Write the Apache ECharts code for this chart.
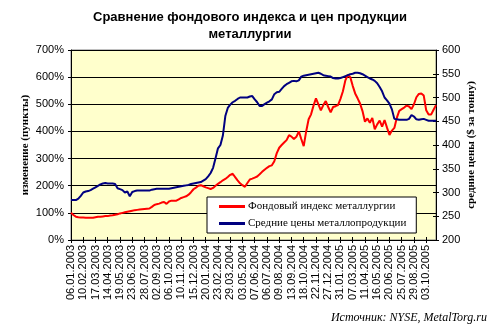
<!DOCTYPE html>
<html>
<head>
<meta charset="utf-8">
<script src="https://cdn.jsdelivr.net/npm/echarts@6/dist/echarts.min.js"></script>
<style>
html,body{margin:0;padding:0;background:#fff;}
#chart{width:500px;height:328px;}
</style>
</head>
<body>
<div id="chart"></div>
<script>
const tickLabels = ['06.01.2003','10.02.2003','17.03.2003','14.04.2003','19.05.2003','23.06.2003','28.07.2003','02.09.2003','06.10.2003','10.11.2003','15.12.2003','20.01.2004','23.02.2004','29.03.2004','03.05.2004','07.06.2004','06.07.2004','09.08.2004','13.09.2004','18.10.2004','22.11.2004','27.12.2004','31.01.2005','07.03.2005','11.04.2005','16.05.2005','20.06.2005','25.07.2005','29.08.2005','03.10.2005'];

// Фондовый индекс металлургии, % (left axis)
const stockIndex = [
100,92,86,84,83,83,82,82,82,82,
84,86,86,87,88,88,90,91,93,95,
98,100,102,104,106,108,110,111,112,113,
114,115,116,122,129,132,134,138,140,133,
142,145,145,145,150,155,158,161,167,176,
187,193,200,202,198,194,191,188,192,200,
207,213,220,225,232,240,244,232,220,209,
202,196,210,223,226,230,234,242,251,259,
266,272,275,290,320,340,350,359,368,386,
381,372,380,400,372,346,400,445,463,495,
522,500,478,497,512,490,470,490,493,497,
520,548,588,608,600,568,540,522,503,475,
436,448,432,450,408,426,440,418,442,414,
387,403,413,450,476,482,488,495,492,482,
500,526,538,540,532,478,462,462,480,497
];

// Средние цены металлопродукции, $ за тонну (right axis)
const avgPrice = [
284,284,284,287,293,300,302,303,305,308,
311,314,317,319,320,319,319,319,318,309,
307,305,300,302,292,301,303,304,304,304,
304,304,304,306,307,308,308,308,308,308,
308,309,310,311,312,313,314,315,316,318,
319,320,321,322,325,328,334,341,352,372,
393,400,420,461,478,485,490,493,497,500,
500,500,500,502,503,496,490,482,482,486,
489,492,496,507,511,512,518,524,528,531,
534,535,534,536,544,546,547,548,549,550,
551,552,550,547,546,545,544,541,540,540,
541,543,545,547,549,550,552,552,551,549,
546,543,540,538,535,530,522,513,500,494,
487,475,455,454,453,453,453,453,455,463,
460,454,453,454,455,453,451,451,451,451
];

const categories = stockIndex.map((_, i) => i % 5 === 0 ? tickLabels[i / 5] : tickLabels[Math.floor(i / 5)] + ' +' + (i % 5));

const chart = echarts.init(document.getElementById('chart'), null, {renderer: 'canvas'});
const sans = 'Liberation Sans, Arial, sans-serif';
const serif = 'Liberation Serif, Times New Roman, serif';

chart.setOption({
  animation: false,
  backgroundColor: '#ffffff',
  textStyle: {fontFamily: sans},
  title: [
    {
      text: 'Сравнение фондового индекса и цен продукции\nметаллургии',
      left: 'center',
      top: 4,
      textStyle: {fontFamily: sans, fontSize: 13, fontWeight: 'bold', color: '#000', lineHeight: 17}
    },
    {
      text: 'Источник: NYSE, MetalTorg.ru',
      right: 8,
      top: 307,
      textStyle: {fontFamily: serif, fontSize: 12, fontStyle: 'italic', fontWeight: 'normal', color: '#000'}
    }
  ],
  grid: {
    left: 71, right: 64, top: 50, bottom: 88,
    show: true, backgroundColor: '#FFFFCC', borderColor: '#808080', borderWidth: 1
  },
  legend: {
    orient: 'vertical',
    left: 207, top: 197,
    backgroundColor: '#ffffff',
    borderColor: '#000000', borderWidth: 1, borderRadius: 0,
    padding: [4, 10, 4, 12],
    itemGap: 6,
    itemWidth: 26, itemHeight: 3,
    textStyle: {fontFamily: serif, fontSize: 11, color: '#000', padding: [0, 0, 0, -2]},
    data: [
      {name: 'Фондовый индекс металлургии', icon: 'rect'},
      {name: 'Средние цены металлопродукции', icon: 'rect'}
    ]
  },
  xAxis: [
    {
      type: 'category', data: categories, boundaryGap: false,
      axisLine: {lineStyle: {color: '#000', width: 1}},
      axisTick: {interval: 4, length: 3, lineStyle: {color: '#000'}},
      axisLabel: {interval: 4, rotate: 90, fontSize: 11, color: '#000', margin: 5, fontFamily: sans, padding: [0, 0, 12, 0]},
      splitLine: {show: false}
    },
    {
      type: 'category', data: categories, boundaryGap: false, position: 'bottom',
      axisLine: {show: false},
      axisTick: {interval: 4, length: 3, inside: true, lineStyle: {color: '#000'}},
      axisLabel: {show: false},
      splitLine: {show: false}
    }
  ],
  yAxis: [
    {
      type: 'value', position: 'left', min: 0, max: 700, interval: 100,
      name: 'изменение (пункты)', nameLocation: 'middle', nameGap: 40, nameRotate: 90,
      nameMoveOverlap: false,
      nameTextStyle: {fontFamily: serif, fontSize: 11, fontWeight: 'bold', color: '#000'},
      axisLine: {show: true, lineStyle: {color: '#000'}},
      axisTick: {show: true, length: 3, lineStyle: {color: '#000'}},
      axisLabel: {formatter: '{value}%', fontSize: 11, color: '#000', margin: 7},
      splitLine: {show: true, lineStyle: {color: '#000', width: 1}}
    },
    {
      type: 'value', position: 'right', min: 200, max: 600, interval: 50,
      name: 'средние цены ($ за тонну)', nameLocation: 'middle', nameGap: 30, nameRotate: 90,
      nameMoveOverlap: false,
      nameTextStyle: {fontFamily: serif, fontSize: 11, fontWeight: 'bold', color: '#000'},
      axisLine: {show: true, lineStyle: {color: '#000'}},
      axisTick: {show: true, length: 3, lineStyle: {color: '#000'}},
      axisLabel: {fontSize: 11, color: '#000', margin: 6},
      splitLine: {show: false}
    },
    {
      type: 'value', position: 'right', min: 200, max: 600, interval: 50,
      axisLine: {show: false},
      axisTick: {show: true, inside: true, length: 3, lineStyle: {color: '#000'}},
      axisLabel: {show: false},
      splitLine: {show: false}
    }
  ],
  series: [
    {
      name: 'Фондовый индекс металлургии', type: 'line', data: stockIndex,
      xAxisIndex: 0, yAxisIndex: 0, showSymbol: false, symbol: 'none',
      lineStyle: {color: '#FF0000', width: 2}, itemStyle: {color: '#FF0000'}
    },
    {
      name: 'Средние цены металлопродукции', type: 'line', data: avgPrice,
      xAxisIndex: 0, yAxisIndex: 1, showSymbol: false, symbol: 'none',
      lineStyle: {color: '#000080', width: 2}, itemStyle: {color: '#000080'}
    }
  ]
});
</script>
</body>
</html>
